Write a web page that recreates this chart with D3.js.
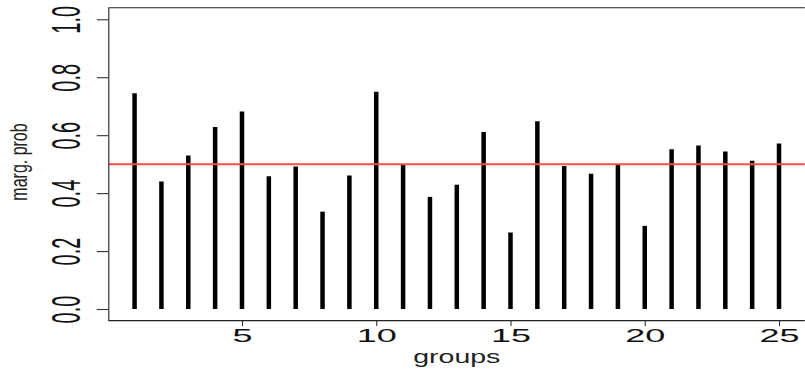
<!DOCTYPE html>
<html>
<head>
<meta charset="utf-8">
<script src="https://cdn.jsdelivr.net/npm/d3@7/dist/d3.min.js"></script>
<style>
  html, body { margin: 0; padding: 0; background: #fff; }
  svg { display: block; font-family: "Liberation Sans", Arial, sans-serif; }
</style>
</head>
<body>
<svg id="chart" width="805" height="373"></svg>
<script>
// Marginal probability per group
const groups = [1, 2, 3, 4, 5, 6, 7, 8, 9, 10, 11, 12, 13, 14, 15, 16, 17, 18, 19, 20, 21, 22, 23, 24, 25];
const margProb = [0.745, 0.44, 0.53, 0.628, 0.682, 0.458, 0.492, 0.336, 0.461, 0.75,
                  0.50, 0.387, 0.429, 0.611, 0.264, 0.648, 0.494, 0.467, 0.50, 0.287,
                  0.551, 0.564, 0.544, 0.512, 0.571];
const xTicks = [5, 10, 15, 20, 25];
const yTicks = [0.0, 0.2, 0.4, 0.6, 0.8, 1.0];
const threshold = 0.5;

const svg = d3.select("#chart");

// R-style 4% padding on both axis ranges
const x = d3.scaleLinear().domain([0.04, 25.96]).range([108.8, 804.8]);
const y = d3.scaleLinear().domain([-0.04, 1.04]).range([320.6, 7.7]);

// Vertical "h"-type bars
svg.append("g")
  .selectAll("line")
  .data(groups)
  .join("line")
  .attr("x1", (g) => x(g))
  .attr("x2", (g) => x(g))
  .attr("y1", y(0))
  .attr("y2", (g, i) => y(margProb[i]))
  .attr("stroke", "#000")
  .attr("stroke-width", 4.5)
  .attr("stroke-linecap", "butt");

// Reference line at 0.5
svg.append("line")
  .attr("x1", x.range()[0])
  .attr("x2", x.range()[1])
  .attr("y1", y(threshold))
  .attr("y2", y(threshold))
  .attr("stroke", "#ff4a4a")
  .attr("stroke-width", 2);

// Plot frame (left, top, bottom)
const [x0, x1] = x.range();
const [yb, yt] = y.range();
svg.append("path")
  .attr("d", `M${x1},${yt}H${x0}V${yb}H${x1}`)
  .attr("fill", "none")
  .attr("stroke", "#222")
  .attr("stroke-width", 1.1);

// Y axis
const yAxis = svg.append("g")
  .attr("transform", `translate(${x0},0)`)
  .call(d3.axisLeft(y).tickValues(yTicks).tickSize(12).tickFormat(d3.format(".1f")));
yAxis.select(".domain").remove();
yAxis.selectAll(".tick line").attr("stroke", "#333").attr("stroke-width", 1.1);
yAxis.selectAll(".tick text")
  .attr("x", null).attr("y", null).attr("dy", null)
  .attr("transform", `translate(${80 - x0},0) scale(2,1) rotate(-90)`)
  .attr("text-anchor", "middle")
  .attr("font-size", 20)
  .attr("fill", "#111");

// X axis
const xAxis = svg.append("g")
  .attr("transform", `translate(0,${yb})`)
  .call(d3.axisBottom(x).tickValues(xTicks).tickSize(5.5).tickFormat(d3.format("d")));
xAxis.select(".domain").remove();
xAxis.selectAll(".tick line").attr("stroke", "#333").attr("stroke-width", 1.1);
xAxis.selectAll(".tick text")
  .attr("y", null).attr("dy", null)
  .attr("transform", `translate(0,${341.5 - yb}) scale(2,1)`)
  .attr("text-anchor", "middle")
  .attr("font-size", 18)
  .attr("fill", "#111");

// Axis titles
svg.append("text")
  .attr("transform", `translate(${(x0 + x1) / 2},362.5) scale(1.5,1)`)
  .attr("text-anchor", "middle")
  .attr("font-size", 19)
  .attr("fill", "#222")
  .text("groups");

svg.append("text")
  .attr("transform", `translate(27,162) scale(1.45,1) rotate(-90)`)
  .attr("text-anchor", "middle")
  .attr("font-size", 16)
  .attr("fill", "#222")
  .text("marg. prob");
</script>
</body>
</html>
